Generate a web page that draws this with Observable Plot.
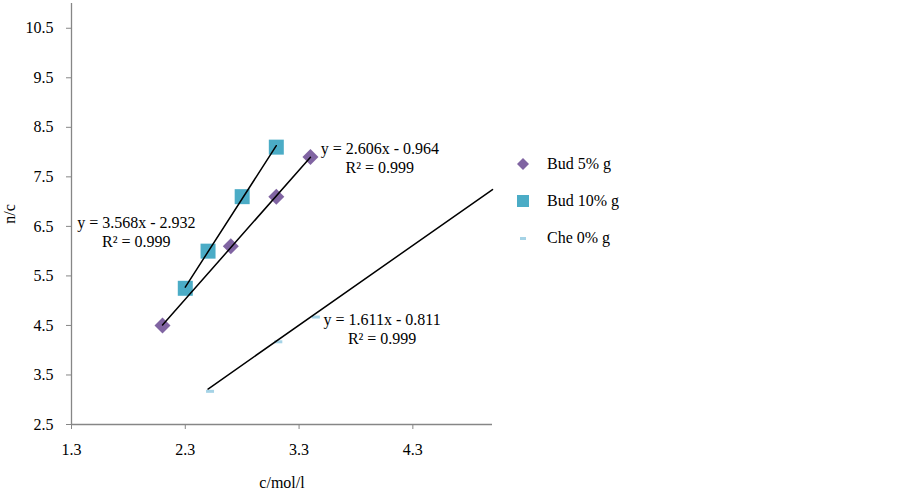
<!DOCTYPE html>
<html>
<head>
<meta charset="utf-8">
<script src="https://cdn.jsdelivr.net/npm/d3@7"></script>
<script src="https://cdn.jsdelivr.net/npm/@observablehq/plot@0.6"></script>
<style>
  html, body { margin: 0; padding: 0; background: #fff; }
  #wrap { position: relative; width: 899px; height: 494px; font-family: "Liberation Serif", "Times New Roman", serif; }
  #legend { position: absolute; left: 512px; top: 145px; font-size: 16px; color: #000; }
  .item { display: flex; align-items: center; height: 37px; }
  .item svg { width: 22px; height: 20px; margin-right: 13px; }
</style>
</head>
<body>
<div id="wrap"></div>
<script>
// ---- data ----
const bud5X  = [2.1, 2.7, 3.1, 3.4];
const bud5Y  = [4.5, 6.1, 7.1, 7.9];
const bud10X = [2.3, 2.5, 2.8, 3.1];
const bud10Y = [5.25, 6.0, 7.1, 8.1];
const che0X  = [2.5, 3.1, 3.43];
const che0Y  = [3.2, 4.2, 4.7];

const seriesNames = ["Bud 5% g", "Bud 10% g", "Che 0% g"];
const seriesColors = ["#8064a2", "#4bacc6", "#a5d3e6"];

// trendlines (from the chart's equations) and their x-ranges
const trendSlope     = [2.606, 3.568, 1.611];
const trendIntercept = [-0.964, -2.932, -0.811];
const trendX0        = [2.1, 2.3, 2.5];
const trendX1        = [3.4, 3.1, 5.0];

// equation label positions (data units)
const labelX = [4.01, 1.87, 4.03];
const labelY = [7.89, 6.40, 4.44];
const labelText = [
  "y = 2.606x - 0.964\nR\u00b2 = 0.999",
  "y = 3.568x - 2.932\nR\u00b2 = 0.999",
  "y = 1.611x - 0.811\nR\u00b2 = 0.999"
];

const xTicks = [1.3, 2.3, 3.3, 4.3];
const yTicks = [2.5, 3.5, 4.5, 5.5, 6.5, 7.5, 8.5, 9.5, 10.5];
const xDomain = [1.3, 5.0];
const yDomain = [2.5, 11.0];

// ---- symbols ----
const diamond = { draw(ctx, size) { const r = Math.sqrt(size / Math.PI);
  ctx.moveTo(0, -r); ctx.lineTo(r, 0); ctx.lineTo(0, r); ctx.lineTo(-r, 0); ctx.closePath(); } };
const square = { draw(ctx, size) { const r = Math.sqrt(size / Math.PI);
  ctx.rect(-r, -r, 2 * r, 2 * r); } };
const dash = { draw(ctx, size) { const r = Math.sqrt(size / Math.PI);
  ctx.rect(-r, -1.5, 2 * r, 3); } };

const bud5 = bud5X.map((x, i) => ({x, y: bud5Y[i]}));
const bud10 = bud10X.map((x, i) => ({x, y: bud10Y[i]}));
const che0 = che0X.map((x, i) => ({x, y: che0Y[i]}));

const trends = [];
trendSlope.forEach((m, i) => {
  [trendX0[i], trendX1[i]].forEach(x => trends.push({s: i, x, y: m * x + trendIntercept[i]}));
});
const labels = labelText.map((t, i) => ({x: labelX[i], y: labelY[i], t}));

const axisColor = "#868686";

const chart = Plot.plot({
  width: 899,
  height: 494,
  marginLeft: 71,
  marginRight: 407,
  marginTop: 3,
  marginBottom: 70,
  style: { fontFamily: "Liberation Serif, Times New Roman, serif", fontSize: "16px", color: "#000", background: "#fff" },
  x: { domain: xDomain },
  y: { domain: yDomain },
  marks: [
    Plot.ruleX([xDomain[0]], { stroke: axisColor, strokeWidth: 1.3 }),
    Plot.ruleY([yDomain[0]], { stroke: axisColor, strokeWidth: 1.3 }),
    Plot.axisX({ ticks: xTicks, tickFormat: d => d.toFixed(1), tickSize: 5, tickPadding: 14, stroke: axisColor,
      label: "c/mol/l", labelAnchor: "center", labelOffset: 63, labelArrow: "none", fontSize: 16 }),
    Plot.axisY({ ticks: yTicks, tickFormat: d => d.toFixed(1), tickSize: 5, tickPadding: 13, stroke: axisColor,
      label: "n/c", labelAnchor: "center", labelOffset: 68, labelArrow: "none", fontSize: 16 }),
    Plot.dot(che0, { x: "x", y: "y", symbol: dash, r: 4, fill: seriesColors[2], stroke: null, dx: 2, dy: 1.5 }),
    Plot.dot(bud10, { x: "x", y: "y", symbol: square, r: 7.5, fill: seriesColors[1], stroke: null }),
    Plot.dot(bud5, { x: "x", y: "y", symbol: diamond, r: 8, fill: seriesColors[0], stroke: null }),
    Plot.line(trends, { x: "x", y: "y", z: "s", stroke: "#000", strokeWidth: 1.5 }),
    Plot.text(labels, { x: "x", y: "y", text: "t", fill: "#000", fontSize: 16, lineHeight: 1.2, textAnchor: "middle" })
  ]
});

const wrap = document.getElementById("wrap");
wrap.appendChild(chart);

// legend
const legend = document.createElement("div");
legend.id = "legend";
const legendSym = [
  '<path d="M11,4 L17,10 L11,16 L5,10 Z" fill="' + seriesColors[0] + '"/>',
  '<rect x="5" y="4" width="12" height="12" fill="' + seriesColors[1] + '"/>',
  '<rect x="8" y="9" width="6" height="3" fill="' + seriesColors[2] + '"/>'
];
seriesNames.forEach((n, i) => {
  const it = document.createElement("div");
  it.className = "item";
  it.innerHTML = '<svg viewBox="0 0 22 20">' + legendSym[i] + '</svg><span>' + n + '</span>';
  legend.appendChild(it);
});
wrap.appendChild(legend);
</script>
</body>
</html>
